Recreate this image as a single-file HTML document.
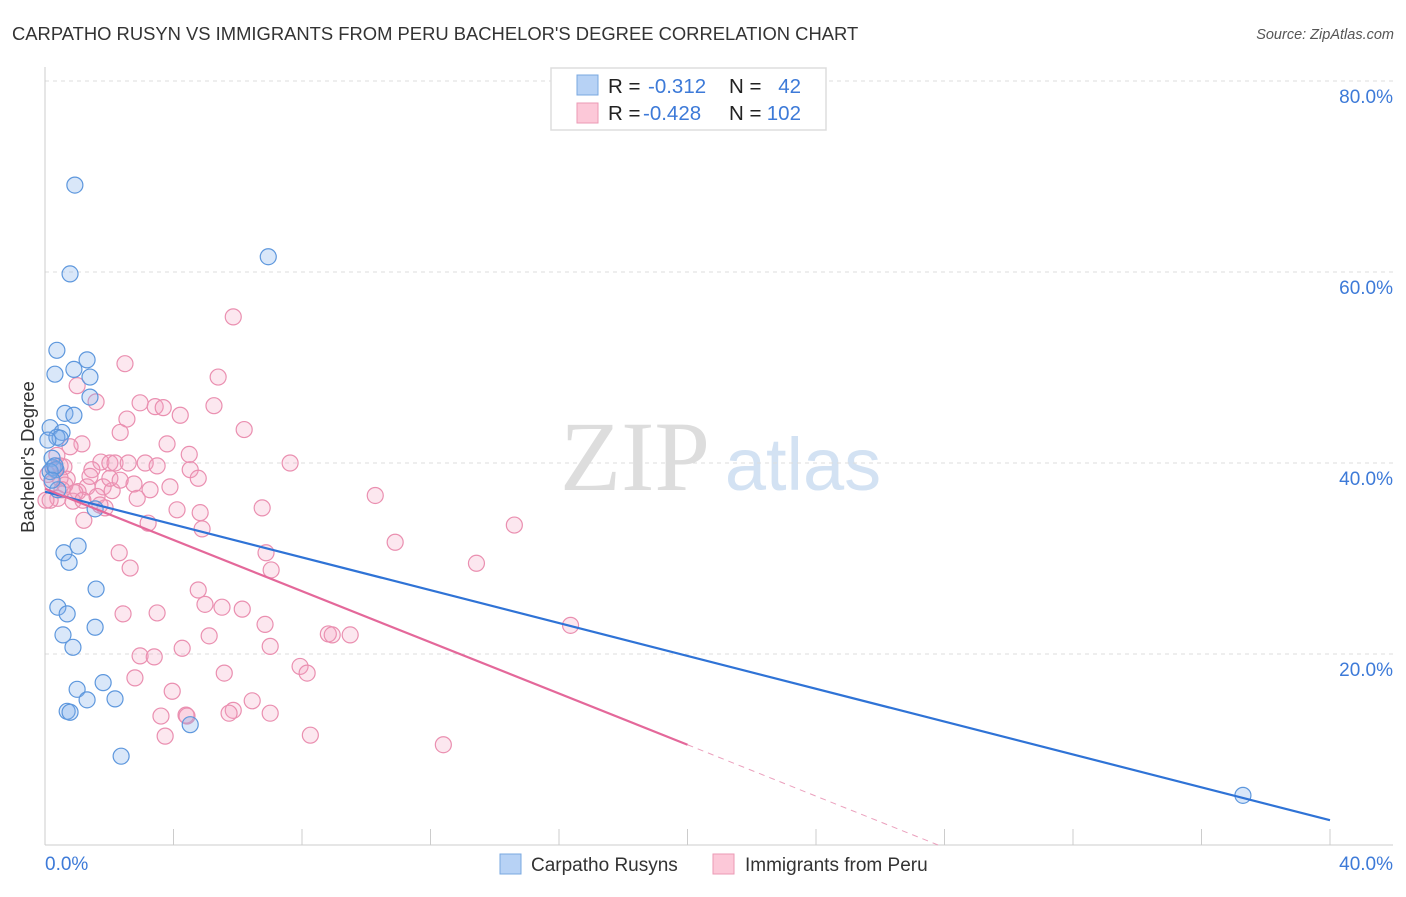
<!DOCTYPE html>
<html><head><meta charset="utf-8"><style>
body{margin:0;background:#fff;font-family:"Liberation Sans",sans-serif}
svg text{font-family:"Liberation Sans",sans-serif}
</style></head><body>
<svg id="c" width="1406" height="892" xmlns="http://www.w3.org/2000/svg">
<text x="12" y="40" font-size="18.4" fill="#333">CARPATHO RUSYN VS IMMIGRANTS FROM PERU BACHELOR'S DEGREE CORRELATION CHART</text>
<text x="1394" y="39" font-size="14.5" fill="#555" text-anchor="end" font-style="italic">Source: ZipAtlas.com</text>
<g>
<text x="635" y="490" font-size="100" fill="#ddd" text-anchor="middle" font-family="Liberation Serif" style="font-family:'Liberation Serif',serif">ZIP</text>
<text x="803" y="490" font-size="74" fill="#d3e2f3" text-anchor="middle">atlas</text>
</g>
<g id="grid"></g><g id="axes"></g><g id="marks"></g><g id="lines"></g>
<text transform="translate(34,457) rotate(-90)" font-size="18.5" fill="#333" text-anchor="middle">Bachelor's Degree</text>
<g>
<rect x="551" y="68" width="275" height="62" fill="#fff" stroke="#ddd" stroke-width="1.5"/>
<rect x="577" y="75" width="21" height="20" fill="#b7d2f5" stroke="#7aa8e0"/>
<rect x="577" y="103" width="21" height="20" fill="#fcc8d8" stroke="#eb9ab5"/>
<text x="608" y="93" font-size="20.5" fill="#222">R =</text><text x="648" y="93" font-size="20.5" fill="#3d7ad8">-0.312</text>
<text x="729" y="93" font-size="20.5" fill="#222">N =</text><text x="801" y="93" font-size="20.5" fill="#3d7ad8" text-anchor="end">42</text>
<text x="608" y="120" font-size="20.5" fill="#222">R =</text><text x="643" y="120" font-size="20.5" fill="#3d7ad8">-0.428</text>
<text x="729" y="120" font-size="20.5" fill="#222">N =</text><text x="801" y="120" font-size="20.5" fill="#3d7ad8" text-anchor="end">102</text>
</g>
<g>
<rect x="500" y="854" width="21" height="20" fill="#b7d2f5" stroke="#7aa8e0"/>
<text x="531" y="871" font-size="19" fill="#333">Carpatho Rusyns</text>
<rect x="713" y="854" width="21" height="20" fill="#fcc8d8" stroke="#eb9ab5"/>
<text x="745" y="871" font-size="19" fill="#333">Immigrants from Peru</text>
</g>
</svg>
<script>
const yTicks=[20,40,60,80];
const xTickLabels=["0.0%","40.0%"];
const blueX=[0.93,6.95,0.78,0.37,1.31,0.31,0.90,1.40,1.40,0.62,0.90,0.16,0.53,0.37,0.22,0.25,0.34,0.16,0.40,1.56,1.03,0.59,0.75,1.59,0.40,0.69,1.56,0.56,0.87,1.00,1.81,1.31,2.18,0.69,0.78,4.52,2.37,37.29,0.47,0.09,0.31,0.22];
const blueY=[69.1,61.6,59.8,51.8,50.8,49.3,49.8,49.0,46.9,45.2,45.0,43.7,43.2,42.7,40.5,39.5,39.3,39.1,37.2,35.2,31.3,30.6,29.6,26.8,24.9,24.2,22.8,22.0,20.7,16.3,17.0,15.2,15.3,14.0,13.9,12.6,9.3,5.2,42.6,42.4,39.7,38.2];
const pinkX=[5.86,2.49,5.39,1.00,1.59,2.96,3.43,3.68,4.21,2.55,5.26,6.20,2.34,3.80,1.15,0.78,4.49,7.63,1.74,2.02,2.18,2.59,3.12,3.49,4.52,1.46,0.47,0.59,0.31,0.09,0.69,4.77,10.28,2.77,3.89,3.27,1.31,1.81,2.09,1.62,1.03,0.87,0.40,0.16,2.87,1.87,4.11,4.83,6.76,1.21,3.21,4.89,14.61,10.90,2.31,6.88,2.65,7.04,13.43,4.77,2.43,3.49,4.98,5.51,6.14,6.85,16.36,5.11,8.82,8.94,9.50,4.27,7.01,2.96,3.40,7.94,8.16,5.58,2.80,3.96,6.45,5.86,5.73,3.61,4.39,4.42,7.01,3.74,12.40,8.26,0.47,0.22,0.62,0.93,1.40,2.02,1.18,1.71,0.53,0.03,0.37,2.34];
const pinkY=[55.3,50.4,49.0,48.1,46.4,46.3,45.9,45.8,45.0,44.6,46.0,43.5,43.2,42.0,42.0,41.7,40.9,40.0,40.1,40.0,40.0,40.0,40.0,39.7,39.3,39.3,39.7,39.6,39.3,38.8,38.3,38.4,36.6,37.8,37.5,37.2,37.5,37.5,37.1,36.5,37.0,36.0,36.3,36.1,36.3,35.3,35.1,34.8,35.3,34.0,33.7,33.1,33.5,31.7,30.6,30.6,29.0,28.8,29.5,26.7,24.2,24.3,25.2,24.9,24.7,23.1,23.0,21.9,22.1,22.0,22.0,20.6,20.8,19.8,19.7,18.7,18.0,18.0,17.5,16.1,15.1,14.1,13.8,13.5,13.6,13.5,13.8,11.4,10.5,11.5,38.4,37.9,37.7,36.9,38.6,38.4,36.1,35.6,37.2,36.1,40.8,38.2];
const blueTrend=[[0,37.0],[40,2.6]];
const pinkTrend=[[0,37.3],[20,10.5]];
const pinkTrendDash=[[20,10.5],[27.8,0]];
const X=v=>45+v/40*1285, Y=v=>845-v/80*764;
const NS="http://www.w3.org/2000/svg";
function mk(p,t,a){const e=document.createElementNS(NS,t);for(const k in a)e.setAttribute(k,a[k]);p.appendChild(e);return e;}
const grid=document.getElementById('grid'),axes=document.getElementById('axes'),marks=document.getElementById('marks'),lines=document.getElementById('lines');
yTicks.forEach(t=>{
 const l=mk(grid,'line',{x1:45,x2:1393,y1:Y(t),y2:Y(t),stroke:'#ddd','stroke-dasharray':'4,4'});
 
 
 const tx=mk(grid,'text',{x:1393,y:Y(t)+22,'font-size':19,fill:'#3d7ad8','text-anchor':'end'});
 tx.textContent=t.toFixed(1)+'%';
 
 
});
const ax=mk(axes,'line',{x1:45,x2:45,y1:67,y2:845,stroke:'#ccc'});


const bx=mk(axes,'line',{x1:45,x2:1393,y1:845,y2:845,stroke:'#ccc'});


for(let i=0;i<=10;i++){const t=mk(axes,'line',{x1:X(i*4),x2:X(i*4),y1:829,y2:845,stroke:'#ccc'});
 
 }
[[0,'start',45],[40,'end',1393]].forEach((d,i)=>{const t=mk(axes,'text',{x:d[2],y:870,'font-size':19,fill:'#3d7ad8','text-anchor':d[1]});t.textContent=xTickLabels[i];
 
 });
function pts(xs,ys,fill,stroke,name){xs.forEach((x,i)=>{const c=mk(marks,'circle',{cx:X(x),cy:Y(ys[i]),r:8,fill:fill,stroke:stroke,'stroke-width':1.2});
 
 });}
pts(pinkX,pinkY,'rgba(245,160,190,0.25)','#ea8fb0','point-peru');
pts(blueX,blueY,'rgba(130,175,235,0.3)','#5d97dd','point-rusyn');
function ln(d,col,name,dash){const l=mk(lines,'line',{x1:X(d[0][0]),y1:Y(d[0][1]),x2:X(d[1][0]),y2:Y(d[1][1]),stroke:col,'stroke-width':dash?1:2.2});
 if(dash)l.setAttribute('stroke-dasharray','6,5');
 
 }
ln(blueTrend,'#2f73d6','trend-rusyn');
ln(pinkTrend,'#e4689a','trend-peru');
ln(pinkTrendDash,'#eba0bd','trend-peru-extrapolated',true);
</script>
</body></html>
